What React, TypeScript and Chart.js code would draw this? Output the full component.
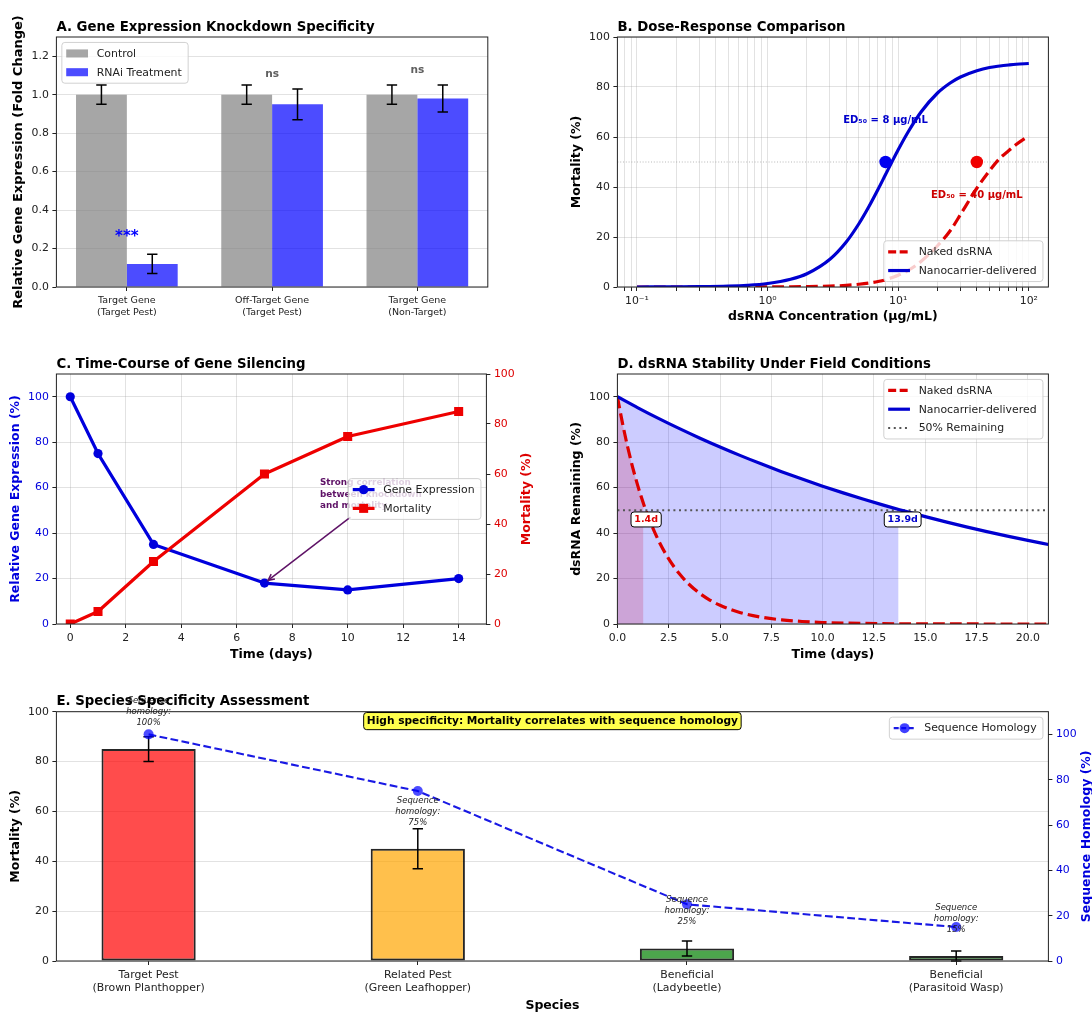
import React, { useEffect, useRef } from 'react';
import { Chart, registerables } from 'chart.js';

Chart.register(...registerables);

const FAMILY = "'DejaVu Sans', 'Liberation Sans', sans-serif";
const fnt = (size: number, weight: string = 'normal', style: string = 'normal') => `${style} ${weight} ${size}px ${FAMILY}`;
const GRID = 'rgba(160,160,160,0.3)';
const INK = '#222';
const TICK_FS = 10.9;
const LEGEND_FS = 10.9;
const TITLE_FS = 13.3;
const AXIS_TITLE_FS = 12.5;

// ---------------- Panel A data ----------------
const geneCategories = [['Target Gene', '(Target Pest)'], ['Off-Target Gene', '(Target Pest)'], ['Target Gene', '(Non-Target)']];
const controlExpression = [1.0, 1.0, 1.0];
const controlError = [0.05, 0.05, 0.05];
const rnaiExpression = [0.12, 0.95, 0.98];
const rnaiError = [0.05, 0.08, 0.07];
const significanceLabels = ['***', 'ns', 'ns'];
const foldChangeTicks = [0, 0.2, 0.4, 0.6, 0.8, 1.0, 1.2];

// ---------------- Panel B data ----------------
const doseConcentration = [0.1, 0.2, 0.3, 0.5, 0.7, 1, 1.5, 2, 3, 4, 5, 6, 7, 8, 9, 10, 12, 15, 20, 25, 30, 40, 50, 60, 70, 80, 100];
const nakedDoseMortality = [0, 0, 0, 0.01, 0.02, 0.03, 0.08, 0.15, 0.35, 0.66, 1.1, 1.6, 2.2, 2.9, 3.8, 4.7, 6.7, 10.3, 16.5, 22.5, 29, 39.5, 46.5, 51.5, 54.5, 57, 60.5];
const nanoDoseMortality = [0.01, 0.06, 0.13, 0.35, 0.68, 1.4, 3.1, 5.3, 11.1, 18, 25.3, 32.4, 39, 45, 50.3, 54.9, 62.3, 70.1, 77.6, 81.6, 84, 86.5, 87.8, 88.4, 88.8, 89.1, 89.4];
const ed50Naked = 40;
const ed50Nano = 8;
const ed50Mortality = 50;
const logDecadeTicks = [0.1, 1, 10, 100];
const logDecadeLabels = ['10\u207B\u00B9', '10\u2070', '10\u00B9', '10\u00B2'];
const mortalityTicks = [0, 20, 40, 60, 80, 100];

// ---------------- Panel C data ----------------
const courseDays = [0, 1, 3, 7, 10, 14];
const courseExpression = [100, 75, 35, 18, 15, 20];
const courseMortality = [0, 5, 25, 60, 75, 85];
const dayTicks = [0, 2, 4, 6, 8, 10, 12, 14];
const correlationNote = ['Strong correlation', 'between knockdown', 'and mortality'];

// ---------------- Panel D data ----------------
const nakedDays = [0, 0.25, 0.5, 0.75, 1, 1.27, 1.5, 2, 2.5, 3, 3.5, 4, 4.5, 5, 6, 7, 8, 9, 10, 11, 12, 14, 16, 18, 21];
const nakedRemaining = [100, 88.25, 77.88, 68.73, 60.65, 52.98, 47.24, 36.79, 28.65, 22.31, 17.38, 13.53, 10.54, 8.21, 4.98, 3.02, 1.83, 1.11, 0.67, 0.41, 0.25, 0.09, 0.03, 0.01, 0];
const nanoDays = [0, 1, 2, 3, 4, 5, 6, 7, 8, 9, 10, 11, 12, 13, 13.7, 14, 15, 16, 17, 18, 19, 20, 21];
const nanoRemaining = [100, 95.12, 90.48, 86.07, 81.87, 77.88, 74.08, 70.47, 67.03, 63.76, 60.65, 57.69, 54.88, 52.2, 50.41, 49.66, 47.24, 44.93, 42.74, 40.66, 38.67, 36.79, 35.0];
const halfLifeNaked = 1.4;
const halfLifeNano = 13.9;
const nakedShadeEnd = 1.27;
const nanoShadeEnd = 13.7;
const halfRemaining = 50;
const stabilityDayTicks = [0, 2.5, 5, 7.5, 10, 12.5, 15, 17.5, 20];
const remainingTicks = [0, 20, 40, 60, 80, 100];

// ---------------- Panel E data ----------------
const speciesLabels = [['Target Pest', '(Brown Planthopper)'], ['Related Pest', '(Green Leafhopper)'], ['Beneficial', '(Ladybeetle)'], ['Beneficial', '(Parasitoid Wasp)']];
const speciesMortality = [85, 45, 5, 2];
const speciesMortalityError = [5, 8, 3, 2];
const sequenceHomology = [100, 75, 25, 15];
const specificityNote = 'High specificity: Mortality correlates with sequence homology';
const homologyTicks = [0, 20, 40, 60, 80, 100];

const SPECIES_COLORS = ['rgba(255,0,0,0.7)', 'rgba(255,165,0,0.7)', 'rgba(0,128,0,0.7)', 'rgba(0,128,0,0.7)'];

// ---------------- helpers ----------------
type AxisOpts = {
  position: string; min: number; max: number; ticks: number[];
  label: (v: number) => string | string[]; size: number; grid: boolean;
  color?: string; fontSize?: number; lineHeight?: number; type?: string;
};

function axis(o: AxisOpts): any {
  const horizontal = o.position === 'bottom';
  return {
    type: o.type ?? 'linear',
    position: o.position,
    min: o.min,
    max: o.max,
    bounds: 'data',
    offset: false,
    afterBuildTicks: (scale: any) => { scale.ticks = o.ticks.map((v) => ({ value: v })); },
    afterFit: (scale: any) => { if (horizontal) scale.height = o.size; else scale.width = o.size; },
    ticks: {
      autoSkip: false, maxRotation: 0, minRotation: 0, padding: 3.5,
      color: o.color ?? INK,
      font: { family: FAMILY, size: o.fontSize ?? TICK_FS, lineHeight: o.lineHeight ?? 1.2 },
      callback: (v: number) => o.label(v),
    },
    grid: {
      display: true, drawOnChartArea: o.grid, offset: false, color: GRID, lineWidth: 1,
      drawTicks: true, tickLength: 4, tickColor: INK, tickWidth: 1,
    },
    border: { display: false },
  };
}

function baseOptions(padding: any, scales: any): any {
  return {
    responsive: false, maintainAspectRatio: false, animation: false, devicePixelRatio: 1, events: [],
    layout: { padding },
    plugins: { legend: { display: false }, tooltip: { enabled: false }, title: { display: false } },
    scales,
  };
}

function roundRectPath(ctx: CanvasRenderingContext2D, x: number, y: number, w: number, h: number, r: number) {
  ctx.beginPath();
  ctx.moveTo(x + r, y);
  ctx.arcTo(x + w, y, x + w, y + h, r);
  ctx.arcTo(x + w, y + h, x, y + h, r);
  ctx.arcTo(x, y + h, x, y, r);
  ctx.arcTo(x, y, x + w, y, r);
  ctx.closePath();
}

function drawFrame(ctx: CanvasRenderingContext2D, a: any) {
  ctx.save();
  ctx.strokeStyle = INK;
  ctx.lineWidth = 1;
  ctx.strokeRect(a.left, a.top, a.right - a.left, a.bottom - a.top);
  ctx.restore();
}

function drawTitle(ctx: CanvasRenderingContext2D, a: any, text: string) {
  ctx.save();
  ctx.font = fnt(TITLE_FS, 'bold');
  ctx.fillStyle = '#000';
  ctx.textAlign = 'left';
  ctx.textBaseline = 'alphabetic';
  ctx.fillText(text, a.left, a.top - 6.5);
  ctx.restore();
}

function drawYTitle(ctx: CanvasRenderingContext2D, x: number, a: any, text: string, color = '#000', size = AXIS_TITLE_FS) {
  ctx.save();
  ctx.translate(x, (a.top + a.bottom) / 2);
  ctx.rotate(-Math.PI / 2);
  ctx.font = fnt(size, 'bold');
  ctx.fillStyle = color;
  ctx.textAlign = 'center';
  ctx.textBaseline = 'middle';
  ctx.fillText(text, 0, 0);
  ctx.restore();
}

function drawXTitle(ctx: CanvasRenderingContext2D, a: any, dy: number, text: string) {
  ctx.save();
  ctx.font = fnt(AXIS_TITLE_FS, 'bold');
  ctx.fillStyle = '#000';
  ctx.textAlign = 'center';
  ctx.textBaseline = 'middle';
  ctx.fillText(text, (a.left + a.right) / 2, a.bottom + dy);
  ctx.restore();
}

type LegendItem = {
  label: string; kind: 'patch' | 'line'; color: string; width?: number; dash?: number[];
  marker?: 'circle' | 'square'; markerSize?: number; markerColor?: string;
};

function drawMarker(ctx: CanvasRenderingContext2D, marker: string, x: number, y: number, size: number, color: string) {
  ctx.fillStyle = color;
  if (marker === 'circle') {
    ctx.beginPath();
    ctx.arc(x, y, size / 2, 0, Math.PI * 2);
    ctx.fill();
  } else {
    ctx.fillRect(x - size / 2, y - size / 2, size, size);
  }
}

function drawLegend(ctx: CanvasRenderingContext2D, a: any, items: LegendItem[], loc: string) {
  const fs = LEGEND_FS, pad = 0.4 * fs, hl = 2 * fs, htp = 0.8 * fs, rowH = 1.22 * fs, sp = 0.5 * fs, axPad = 0.5 * fs;
  ctx.save();
  ctx.font = fnt(fs);
  const tw = Math.max(...items.map((it) => ctx.measureText(it.label).width));
  const w = 2 * pad + hl + htp + tw + 2;
  const h = 2 * pad + items.length * rowH + (items.length - 1) * sp;
  const x = loc.includes('left') ? a.left + axPad : a.right - axPad - w;
  const y = loc.startsWith('upper') ? a.top + axPad : loc.startsWith('lower') ? a.bottom - axPad - h : (a.top + a.bottom) / 2 - h / 2;
  roundRectPath(ctx, x, y, w, h, 3);
  ctx.fillStyle = 'rgba(255,255,255,0.8)';
  ctx.fill();
  ctx.strokeStyle = 'rgba(204,204,204,0.9)';
  ctx.lineWidth = 1;
  ctx.stroke();
  items.forEach((it, i) => {
    const cy = y + pad + i * (rowH + sp) + rowH / 2;
    const hx = x + pad;
    if (it.kind === 'patch') {
      ctx.fillStyle = it.color;
      ctx.fillRect(hx, cy - 0.37 * fs, hl, 0.74 * fs);
    } else {
      ctx.save();
      ctx.strokeStyle = it.color;
      ctx.lineWidth = it.width ?? 2;
      ctx.setLineDash(it.dash ?? []);
      ctx.beginPath();
      ctx.moveTo(hx, cy);
      ctx.lineTo(hx + hl, cy);
      ctx.stroke();
      ctx.restore();
      if (it.marker) drawMarker(ctx, it.marker, hx + hl / 2, cy, it.markerSize ?? 8.5, it.markerColor ?? it.color);
    }
    ctx.fillStyle = INK;
    ctx.textAlign = 'left';
    ctx.textBaseline = 'middle';
    ctx.fillText(it.label, hx + hl + htp, cy + 0.5);
  });
  ctx.restore();
}

function drawErrorBars(chart: any, dsIndex: number, values: number[], errs: number[], cap = 5.2) {
  const meta = chart.getDatasetMeta(dsIndex);
  const ys = chart.scales[meta.yAxisID];
  const ctx: CanvasRenderingContext2D = chart.ctx;
  ctx.save();
  ctx.strokeStyle = '#000';
  ctx.lineWidth = 1.5;
  meta.data.forEach((el: any, i: number) => {
    const x = el.x;
    const top = ys.getPixelForValue(values[i] + errs[i]);
    const bot = ys.getPixelForValue(values[i] - errs[i]);
    ctx.beginPath();
    ctx.moveTo(x, top); ctx.lineTo(x, bot);
    ctx.moveTo(x - cap, top); ctx.lineTo(x + cap, top);
    ctx.moveTo(x - cap, bot); ctx.lineTo(x + cap, bot);
    ctx.stroke();
  });
  ctx.restore();
}

function drawBoxedText(ctx: CanvasRenderingContext2D, cx: number, cy: number, text: string, font: string, color: string, fill: string, padX: number, padY: number, fs: number) {
  ctx.save();
  ctx.font = font;
  const w = ctx.measureText(text).width + 2 * padX;
  const h = fs * 1.2 + 2 * padY;
  roundRectPath(ctx, cx - w / 2, cy - h / 2, w, h, 3);
  ctx.fillStyle = fill;
  ctx.fill();
  ctx.strokeStyle = '#000';
  ctx.lineWidth = 1;
  ctx.stroke();
  ctx.fillStyle = color;
  ctx.textAlign = 'center';
  ctx.textBaseline = 'middle';
  ctx.fillText(text, cx, cy + 0.5);
  ctx.restore();
}

const xy = (xs: number[], ys: number[]) => ys.map((y, i) => ({ x: xs[i], y }));

// ---------------- Panel A ----------------
function makeA(): any {
  const idx = geneCategories.map((_, i) => i);
  return {
    type: 'bar',
    data: {
      datasets: [
        { label: 'Control', data: xy(idx, controlExpression), backgroundColor: 'rgba(128,128,128,0.7)', borderWidth: 0, categoryPercentage: 0.7, barPercentage: 1.0 },
        { label: 'RNAi Treatment', data: xy(idx, rnaiExpression), backgroundColor: 'rgba(0,0,255,0.7)', borderWidth: 0, categoryPercentage: 0.7, barPercentage: 1.0 },
      ],
    },
    options: baseOptions({ top: 37, right: 58.2, left: 0, bottom: 0 }, {
      x: axis({ position: 'bottom', min: -0.485, max: idx.length - 1 + 0.485, ticks: idx, label: (v) => geneCategories[Math.round(v)], size: 48, grid: false, fontSize: 9.5, lineHeight: 1.3 }),
      y: axis({ position: 'left', min: 0, max: 1.3, ticks: foldChangeTicks, label: (v) => v.toFixed(1), size: 56.4, grid: true }),
    }),
    plugins: [{
      id: 'panelA',
      afterDatasetsDraw(chart: any) {
        const ctx: CanvasRenderingContext2D = chart.ctx;
        drawErrorBars(chart, 0, controlExpression, controlError);
        drawErrorBars(chart, 1, rnaiExpression, rnaiError);
        const xs = chart.scales.x, ys = chart.scales.y;
        significanceLabels.forEach((s, i) => {
          const star = s.includes('*');
          ctx.save();
          ctx.font = star ? fnt(15, 'bold') : fnt(10.6, 'bold');
          ctx.fillStyle = star ? '#0000FF' : '#606060';
          ctx.textAlign = 'center';
          ctx.textBaseline = 'bottom';
          ctx.fillText(s, xs.getPixelForValue(i), ys.getPixelForValue(rnaiExpression[i] + rnaiError[i] + 0.05));
          ctx.restore();
        });
        drawFrame(ctx, chart.chartArea);
      },
      afterDraw(chart: any) {
        const ctx = chart.ctx, a = chart.chartArea;
        drawLegend(ctx, a, [
          { label: 'Control', kind: 'patch', color: 'rgba(128,128,128,0.7)' },
          { label: 'RNAi Treatment', kind: 'patch', color: 'rgba(0,0,255,0.7)' },
        ], 'upper left');
        drawTitle(ctx, a, 'A. Gene Expression Knockdown Specificity');
        drawYTitle(ctx, a.left - 37.5, a, 'Relative Gene Expression (Fold Change)', '#000', 13);
      },
    }],
  };
}

// ---------------- Panel B ----------------
function makeB(): any {
  const lo = Math.log10(Math.min(...doseConcentration));
  const hi = Math.log10(Math.max(...doseConcentration));
  const m = 0.05 * (hi - lo);
  const xMin = Math.pow(10, lo - m), xMax = Math.pow(10, hi + m);
  const logTicks: number[] = [];
  for (let e = Math.floor(Math.log10(xMin)); e <= Math.floor(Math.log10(xMax)); e++) {
    for (let k = 1; k <= 9; k++) {
      const v = k * Math.pow(10, e);
      if (v >= xMin && v <= xMax) logTicks.push(v);
    }
  }
  const logLabel = (v: number) => {
    const k = logDecadeTicks.findIndex((d) => Math.abs(d - v) < d * 1e-6);
    return k >= 0 ? logDecadeLabels[k] : '';
  };
  return {
    type: 'line',
    data: {
      datasets: [
        { data: [{ x: xMin, y: ed50Mortality }, { x: xMax, y: ed50Mortality }], borderColor: 'rgba(128,128,128,0.55)', borderWidth: 1, borderDash: [1, 1.8], pointRadius: 0, order: 5 },
        { label: 'Naked dsRNA', data: xy(doseConcentration, nakedDoseMortality), borderColor: '#DD0000', borderWidth: 3.2, borderDash: [11.8, 5.1], pointRadius: 0, cubicInterpolationMode: 'monotone', order: 4 },
        { label: 'Nanocarrier-delivered', data: xy(doseConcentration, nanoDoseMortality), borderColor: '#0000D0', borderWidth: 3.2, borderJoinStyle: 'round', pointRadius: 0, cubicInterpolationMode: 'monotone', order: 3 },
        { data: [{ x: ed50Naked, y: ed50Mortality }], showLine: false, pointRadius: 6.2, pointBackgroundColor: '#F00000', pointBorderWidth: 0, order: 2 },
        { data: [{ x: ed50Nano, y: ed50Mortality }], showLine: false, pointRadius: 6.2, pointBackgroundColor: '#0000F0', pointBorderWidth: 0, order: 1 },
      ],
    },
    options: baseOptions({ top: 37, right: 43.6, left: 0, bottom: 0 }, {
      x: axis({ type: 'logarithmic', position: 'bottom', min: xMin, max: xMax, ticks: logTicks, label: logLabel, size: 48, grid: true }),
      y: axis({ position: 'left', min: 0, max: 100, ticks: mortalityTicks, label: (v) => String(v), size: 71.4, grid: true }),
    }),
    plugins: [{
      id: 'panelB',
      beforeDatasetsDraw(chart: any) {
        const ctx: CanvasRenderingContext2D = chart.ctx;
        const xs = chart.scales.x, ys = chart.scales.y;
        ctx.save();
        ctx.font = fnt(10, 'bold');
        ctx.textAlign = 'center';
        ctx.textBaseline = 'middle';
        ctx.fillStyle = '#0000CC';
        ctx.fillText(`ED\u2085\u2080 = ${ed50Nano} \u03BCg/mL`, xs.getPixelForValue(ed50Nano), ys.getPixelForValue(ed50Mortality + 16.5));
        ctx.fillStyle = '#CC0000';
        ctx.fillText(`ED\u2085\u2080 = ${ed50Naked} \u03BCg/mL`, xs.getPixelForValue(ed50Naked), ys.getPixelForValue(ed50Mortality - 13.5));
        ctx.restore();
      },
      afterDatasetsDraw(chart: any) {
        drawFrame(chart.ctx, chart.chartArea);
      },
      afterDraw(chart: any) {
        const ctx = chart.ctx, a = chart.chartArea;
        drawLegend(ctx, a, [
          { label: 'Naked dsRNA', kind: 'line', color: '#DD0000', width: 3.2, dash: [8, 3.5] },
          { label: 'Nanocarrier-delivered', kind: 'line', color: '#0000D0', width: 3.2 },
        ], 'lower right');
        drawTitle(ctx, a, 'B. Dose-Response Comparison');
        drawYTitle(ctx, a.left - 41, a, 'Mortality (%)');
        drawXTitle(ctx, a, 30, 'dsRNA Concentration (\u03BCg/mL)');
      },
    }],
  };
}

// ---------------- Panel C ----------------
function makeC(): any {
  return {
    type: 'line',
    data: {
      datasets: [
        { label: 'Gene Expression', data: xy(courseDays, courseExpression), yAxisID: 'y', borderColor: '#0000DD', borderWidth: 3.2, borderJoinStyle: 'round', pointRadius: 4.6, pointBackgroundColor: '#0000DD', pointBorderWidth: 0, order: 1 },
        { label: 'Mortality', data: xy(courseDays, courseMortality), yAxisID: 'y1', borderColor: '#EE0000', borderWidth: 3.2, borderJoinStyle: 'round', pointStyle: 'rect', pointRadius: 6.4, pointBackgroundColor: '#EE0000', pointBorderWidth: 0, order: 0 },
      ],
    },
    options: baseOptions({ top: 39, right: 0, left: 0, bottom: 0 }, {
      x: axis({ position: 'bottom', min: -0.5, max: 15, ticks: dayTicks, label: (v) => String(v), size: 51, grid: true }),
      y: axis({ position: 'left', min: 0, max: 110, ticks: mortalityTicks, label: (v) => String(v), size: 56.4, grid: true, color: '#0000DD' }),
      y1: axis({ position: 'right', min: 0, max: 100, ticks: mortalityTicks, label: (v) => String(v), size: 59.6, grid: false, color: '#DD0000' }),
    }),
    plugins: [{
      id: 'panelC',
      afterDatasetsDraw(chart: any) {
        const ctx: CanvasRenderingContext2D = chart.ctx;
        const xs = chart.scales.x, ys = chart.scales.y;
        const NOTE = '#5E1266';
        ctx.save();
        ctx.font = fnt(8.8, 'bold');
        ctx.fillStyle = NOTE;
        ctx.textAlign = 'left';
        ctx.textBaseline = 'middle';
        const tx = xs.getPixelForValue(9), ty = ys.getPixelForValue(57);
        correlationNote.forEach((line, k) => ctx.fillText(line, tx, ty + (k - 1) * 11.5));
        const sx = xs.getPixelForValue(10.1), sy = ys.getPixelForValue(47);
        const px = xs.getPixelForValue(courseDays[3]), py = ys.getPixelForValue(courseExpression[3]);
        const ang = Math.atan2(py - sy, px - sx);
        const ex = px - Math.cos(ang) * 4.5, ey = py - Math.sin(ang) * 4.5;
        ctx.strokeStyle = NOTE;
        ctx.lineWidth = 1.5;
        ctx.beginPath();
        ctx.moveTo(sx, sy);
        ctx.lineTo(ex, ey);
        ctx.stroke();
        ctx.beginPath();
        ctx.moveTo(ex - Math.cos(ang - 0.45) * 7, ey - Math.sin(ang - 0.45) * 7);
        ctx.lineTo(ex, ey);
        ctx.lineTo(ex - Math.cos(ang + 0.45) * 7, ey - Math.sin(ang + 0.45) * 7);
        ctx.stroke();
        ctx.restore();
        drawFrame(ctx, chart.chartArea);
      },
      afterDraw(chart: any) {
        const ctx = chart.ctx, a = chart.chartArea;
        drawLegend(ctx, a, [
          { label: 'Gene Expression', kind: 'line', color: '#0000DD', width: 3.2, marker: 'circle', markerSize: 9.2 },
          { label: 'Mortality', kind: 'line', color: '#EE0000', width: 3.2, marker: 'square', markerSize: 9 },
        ], 'center right');
        drawTitle(ctx, a, 'C. Time-Course of Gene Silencing');
        drawYTitle(ctx, a.left - 41, a, 'Relative Gene Expression (%)', '#0000DD');
        drawYTitle(ctx, a.right + 40.5, a, 'Mortality (%)', '#DD0000');
        drawXTitle(ctx, a, 31, 'Time (days)');
      },
    }],
  };
}

// ---------------- Panel D ----------------
function makeD(): any {
  const xMax = nanoDays[nanoDays.length - 1];
  const nakedShade = xy(nakedDays, nakedRemaining).filter((p) => p.x <= nakedShadeEnd);
  const nanoShade = xy(nanoDays, nanoRemaining).filter((p) => p.x <= nanoShadeEnd);
  return {
    type: 'line',
    data: {
      datasets: [
        { data: nakedShade, fill: 'origin', backgroundColor: 'rgba(255,0,0,0.2)', borderWidth: 0, pointRadius: 0, cubicInterpolationMode: 'monotone', order: 6 },
        { data: nanoShade, fill: 'origin', backgroundColor: 'rgba(0,0,255,0.2)', borderWidth: 0, pointRadius: 0, cubicInterpolationMode: 'monotone', order: 5 },
        { data: [{ x: 0, y: halfRemaining }, { x: xMax, y: halfRemaining }], borderColor: '#555', borderWidth: 2, borderDash: [2, 3.6], pointRadius: 0, order: 4 },
        { label: 'Naked dsRNA', data: xy(nakedDays, nakedRemaining), borderColor: '#DD0000', borderWidth: 3.2, borderDash: [11.8, 5.1], pointRadius: 0, cubicInterpolationMode: 'monotone', order: 3 },
        { label: 'Nanocarrier-delivered', data: xy(nanoDays, nanoRemaining), borderColor: '#0000D0', borderWidth: 3.2, pointRadius: 0, cubicInterpolationMode: 'monotone', order: 2 },
      ],
    },
    options: baseOptions({ top: 39, right: 43.6, left: 0, bottom: 0 }, {
      x: axis({ position: 'bottom', min: 0, max: xMax, ticks: stabilityDayTicks, label: (v) => v.toFixed(1), size: 51, grid: true }),
      y: axis({ position: 'left', min: 0, max: 110, ticks: remainingTicks, label: (v) => String(v), size: 71.4, grid: true }),
    }),
    plugins: [{
      id: 'panelD',
      afterDatasetsDraw(chart: any) {
        const ctx: CanvasRenderingContext2D = chart.ctx;
        const xs = chart.scales.x, ys = chart.scales.y;
        drawBoxedText(ctx, xs.getPixelForValue(halfLifeNaked), ys.getPixelForValue(46), `${halfLifeNaked}d`, fnt(9.5, 'bold'), '#DD0000', '#FFFFFF', 3.3, 1.8, 9.5);
        drawBoxedText(ctx, xs.getPixelForValue(halfLifeNano), ys.getPixelForValue(46), `${halfLifeNano}d`, fnt(9.5, 'bold'), '#0000CC', '#FFFFFF', 3.3, 1.8, 9.5);
        drawFrame(ctx, chart.chartArea);
      },
      afterDraw(chart: any) {
        const ctx = chart.ctx, a = chart.chartArea;
        drawLegend(ctx, a, [
          { label: 'Naked dsRNA', kind: 'line', color: '#DD0000', width: 3.2, dash: [8, 3.5] },
          { label: 'Nanocarrier-delivered', kind: 'line', color: '#0000D0', width: 3.2 },
          { label: '50% Remaining', kind: 'line', color: '#555', width: 2, dash: [2, 3.6] },
        ], 'upper right');
        drawTitle(ctx, a, 'D. dsRNA Stability Under Field Conditions');
        drawYTitle(ctx, a.left - 41, a, 'dsRNA Remaining (%)');
        drawXTitle(ctx, a, 31, 'Time (days)');
      },
    }],
  };
}

// ---------------- Panel E ----------------
function makeE(): any {
  const idx = speciesLabels.map((_, i) => i);
  const half = 0.35 / 2;
  const margin = 0.05 * (idx.length - 1 + 0.35);
  return {
    type: 'bar',
    data: {
      datasets: [
        { type: 'line', label: 'Sequence Homology', data: xy(idx, sequenceHomology), yAxisID: 'y1', borderColor: 'rgba(0,0,225,0.9)', borderWidth: 2.1, borderDash: [7.8, 3.4], pointRadius: 5, pointBackgroundColor: 'rgba(0,0,255,0.7)', pointBorderWidth: 0, order: 0 },
        { type: 'bar', data: xy(idx, speciesMortality), yAxisID: 'y', backgroundColor: SPECIES_COLORS, borderColor: 'rgba(0,0,0,0.85)', borderWidth: 2, borderSkipped: false, barPercentage: 0.35, categoryPercentage: 1, order: 1 },
      ],
    },
    options: baseOptions({ top: 36.7, right: 0, left: 0, bottom: 0 }, {
      x: axis({ position: 'bottom', min: -half - margin, max: idx.length - 1 + half + margin, ticks: idx, label: (v) => speciesLabels[Math.round(v)], size: 52, grid: false, lineHeight: 1.22 }),
      y: axis({ position: 'left', min: 0, max: 100, ticks: mortalityTicks, label: (v) => String(v), size: 56.4, grid: true }),
      y1: axis({ position: 'right', min: 0, max: 110, ticks: homologyTicks, label: (v) => String(v), size: 43.6, grid: false, color: '#0000DD' }),
    }),
    plugins: [{
      id: 'panelE',
      afterDatasetDraw(chart: any, args: any) {
        if (args.index === 1) drawErrorBars(chart, 1, speciesMortality, speciesMortalityError);
      },
      afterDatasetsDraw(chart: any) {
        const ctx: CanvasRenderingContext2D = chart.ctx;
        const xs = chart.scales.x, ys = chart.scales.y;
        ctx.save();
        ctx.font = fnt(8.5, 'normal', 'italic');
        ctx.fillStyle = '#222';
        ctx.textAlign = 'center';
        ctx.textBaseline = 'middle';
        idx.forEach((i) => {
          const cx = xs.getPixelForValue(i), cy = ys.getPixelForValue(speciesMortality[i] + 15);
          ['Sequence', 'homology:', `${sequenceHomology[i]}%`].forEach((t, k) => ctx.fillText(t, cx, cy + (k - 1) * 11));
        });
        ctx.restore();
        drawFrame(ctx, chart.chartArea);
        const a = chart.chartArea;
        drawBoxedText(ctx, (a.left + a.right) / 2, a.top + 9.4, specificityNote, fnt(10.6, 'bold'), '#000', 'rgba(255,255,0,0.7)', 3.2, 2.2, 10.6);
      },
      afterDraw(chart: any) {
        const ctx = chart.ctx, a = chart.chartArea;
        drawLegend(ctx, a, [
          { label: 'Sequence Homology', kind: 'line', color: 'rgba(0,0,225,0.9)', width: 2.1, dash: [5, 2.5], marker: 'circle', markerSize: 10, markerColor: 'rgba(0,0,255,0.75)' },
        ], 'upper right');
        drawTitle(ctx, a, 'E. Species Specificity Assessment');
        drawYTitle(ctx, a.left - 41, a, 'Mortality (%)');
        drawYTitle(ctx, a.right + 38.3, a, 'Sequence Homology (%)', '#0000DD');
        drawXTitle(ctx, a, 45, 'Species');
      },
    }],
  };
}

function ChartCanvas(props: { left: number; top: number; width: number; height: number; make: () => any }) {
  const ref = useRef<HTMLCanvasElement>(null);
  useEffect(() => {
    const chart = new Chart(ref.current as HTMLCanvasElement, props.make());
    return () => chart.destroy();
  }, []);
  return (
    <canvas
      ref={ref}
      width={props.width}
      height={props.height}
      style={{ position: 'absolute', left: props.left, top: props.top, width: props.width, height: props.height, display: 'block' }}
    />
  );
}

export default function App() {
  return (
    <div style={{ position: 'absolute', left: 0, top: 0, width: 1092, height: 1013, background: '#fff', overflow: 'hidden' }}>
      <ChartCanvas left={0} top={0} width={546} height={335} make={makeA} />
      <ChartCanvas left={546} top={0} width={546} height={335} make={makeB} />
      <ChartCanvas left={0} top={335} width={546} height={340} make={makeC} />
      <ChartCanvas left={546} top={335} width={546} height={340} make={makeD} />
      <ChartCanvas left={0} top={675} width={1092} height={338} make={makeE} />
    </div>
  );
}
